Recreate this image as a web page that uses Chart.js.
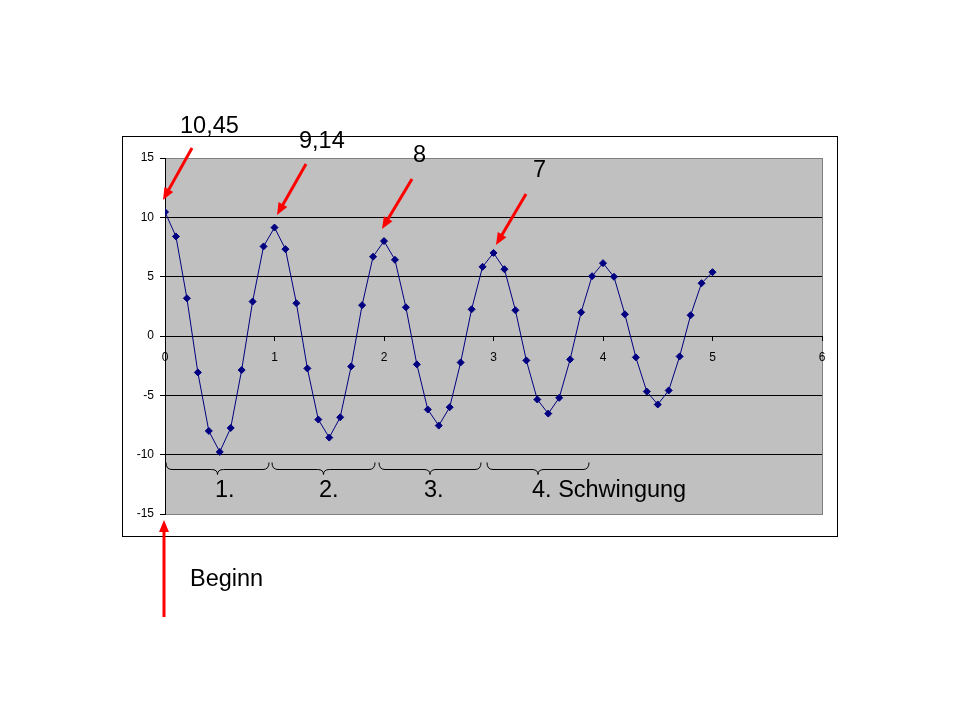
<!DOCTYPE html>
<html>
<head>
<meta charset="utf-8">
<title>Schwingung</title>
<script src="https://cdn.jsdelivr.net/npm/chart.js@4.4.1/dist/chart.umd.min.js"></script>
<style>
  body { margin: 0; background: #fff; }
  canvas { display: block; }
</style>
</head>
<body>
<canvas id="chart" width="960" height="720"></canvas>
<script>
// time in s
const times = [0, 0.1, 0.2, 0.3, 0.4, 0.5, 0.6, 0.7, 0.8, 0.9,
  1.0, 1.1, 1.2, 1.3, 1.4, 1.5, 1.6, 1.7, 1.8, 1.9,
  2.0, 2.1, 2.2, 2.3, 2.4, 2.5, 2.6, 2.7, 2.8, 2.9,
  3.0, 3.1, 3.2, 3.3, 3.4, 3.5, 3.6, 3.7, 3.8, 3.9,
  4.0, 4.1, 4.2, 4.3, 4.4, 4.5, 4.6, 4.7, 4.8, 4.9, 5.0];

// deflection
const deflection = [10.45, 8.39, 3.18, -3.07, -8.0, -9.77, -7.75, -2.87, 2.9, 7.55,
  9.14, 7.32, 2.76, -2.73, -7.04, -8.56, -6.85, -2.56, 2.6, 6.68,
  8.0, 6.42, 2.42, -2.39, -6.2, -7.55, -6.0, -2.23, 2.25, 5.83,
  7.0, 5.63, 2.17, -2.06, -5.35, -6.54, -5.21, -1.97, 2.0, 5.04,
  6.14, 4.99, 1.83, -1.8, -4.68, -5.77, -4.59, -1.72, 1.75, 4.45, 5.38];

const xTicks = [0, 1, 2, 3, 4, 5, 6];
const yTicks = [-15, -10, -5, 0, 5, 10, 15];

// peak labels with arrows (tip, tail, text pos)
const peakLabels = ['10,45', '9,14', '8', '7'];
const arrows = [
  [163, 200, 192, 148],
  [277, 215, 306, 164],
  [382, 229, 412, 179],
  [496, 245, 526, 194]
];
const labelPos = [[180, 133], [299, 148], [413, 162], [533, 177]];

// braces under the curve
const braceLabels = ['1.', '2.', '3.', '4. Schwingung'];
const braces = [[166, 269], [272, 375], [379, 481], [487, 589]];
const braceTextPos = [[215, 497], [319, 497], [424, 497], [532, 497]];

const FONT = '"Liberation Sans", Arial, sans-serif';

function arrow(ctx, x1, y1, x2, y2) {
  // x1,y1 = tip
  const a = Math.atan2(y1 - y2, x1 - x2);
  const len = 12, half = 5;
  ctx.strokeStyle = '#ff0000';
  ctx.fillStyle = '#ff0000';
  ctx.lineWidth = 3;
  ctx.beginPath();
  ctx.moveTo(x2, y2);
  ctx.lineTo(x1 - Math.cos(a) * len * 0.8, y1 - Math.sin(a) * len * 0.8);
  ctx.stroke();
  ctx.beginPath();
  ctx.moveTo(x1, y1);
  ctx.lineTo(x1 - Math.cos(a) * len + Math.sin(a) * half, y1 - Math.sin(a) * len - Math.cos(a) * half);
  ctx.lineTo(x1 - Math.cos(a) * len - Math.sin(a) * half, y1 - Math.sin(a) * len + Math.cos(a) * half);
  ctx.closePath();
  ctx.fill();
}

function brace(ctx, x1, x2) {
  const top = 462.5, mid = 469.5, bot = 474.5;
  const cx = (x1 + x2) / 2;
  ctx.strokeStyle = '#000';
  ctx.lineWidth = 1;
  ctx.beginPath();
  ctx.moveTo(x1, top);
  ctx.quadraticCurveTo(x1, mid, x1 + 6, mid);
  ctx.lineTo(cx - 6, mid);
  ctx.quadraticCurveTo(cx, mid, cx, bot);
  ctx.quadraticCurveTo(cx, mid, cx + 6, mid);
  ctx.lineTo(x2 - 6, mid);
  ctx.quadraticCurveTo(x2, mid, x2, top);
  ctx.stroke();
}

const frame = {
  id: 'frame',
  beforeDraw(chart) {
    const { ctx, chartArea: a } = chart;
    ctx.save();
    ctx.strokeStyle = '#000';
    ctx.lineWidth = 1;
    ctx.strokeRect(122.5, 136.5, 715, 400);
    ctx.fillStyle = '#c0c0c0';
    ctx.fillRect(a.left, a.top, a.right - a.left, a.bottom - a.top);
    ctx.strokeStyle = '#808080';
    ctx.strokeRect(a.left + 0.5, a.top + 0.5, a.right - a.left, a.bottom - a.top);
    ctx.restore();
  },
  afterDraw(chart) {
    const ctx = chart.ctx;
    ctx.save();
    arrows.forEach(a => arrow(ctx, a[0], a[1], a[2], a[3]));
    arrow(ctx, 164, 520, 164, 617);
    braces.forEach(b => brace(ctx, b[0], b[1]));
    ctx.fillStyle = '#000';
    ctx.font = '23.5px ' + FONT;
    ctx.textBaseline = 'alphabetic';
    ctx.textAlign = 'left';
    peakLabels.forEach((t, i) => ctx.fillText(t, labelPos[i][0], labelPos[i][1]));
    braceLabels.forEach((t, i) => ctx.fillText(t, braceTextPos[i][0], braceTextPos[i][1]));
    ctx.fillText('Beginn', 190, 586);
    ctx.restore();
  }
};

new Chart(document.getElementById('chart'), {
  type: 'line',
  data: {
    datasets: [{
      data: times.map((t, i) => ({ x: t, y: deflection[i] })),
      borderColor: '#000080',
      backgroundColor: '#000080',
      borderWidth: 1,
      pointStyle: 'rectRot',
      pointRadius: 3.5,
      pointBorderWidth: 1,
      tension: 0
    }]
  },
  options: {
    responsive: false,
    animation: false,
    layout: { padding: { left: 0, right: 138, top: 158, bottom: 206 } },
    plugins: { legend: { display: false }, tooltip: { enabled: false } },
    scales: {
      x: {
        type: 'linear',
        min: 0,
        max: 6,
        position: { y: 0 },
        afterFit: (scale) => { scale.height = 0; },
        afterBuildTicks: (scale) => { scale.ticks = xTicks.map(v => ({ value: v })); },
        grid: { drawOnChartArea: false, tickLength: 4, tickColor: '#000' },
        border: { color: '#000', width: 1 },
        ticks: { color: '#000', padding: 10, maxRotation: 0, font: { family: FONT, size: 12 } }
      },
      y: {
        min: -15,
        max: 15,
        afterFit: (scale) => { scale.width = 165; },
        afterBuildTicks: (scale) => { scale.ticks = yTicks.map(v => ({ value: v })); },
        grid: {
          color: (c) => (c.tick && Math.abs(c.tick.value) === 15 ? '#808080' : '#000'),
          tickLength: 5,
          tickColor: '#000'
        },
        border: { color: '#000', width: 1 },
        ticks: { color: '#000', padding: 6, font: { family: FONT, size: 12 } }
      }
    }
  },
  plugins: [frame]
});
</script>
</body>
</html>
